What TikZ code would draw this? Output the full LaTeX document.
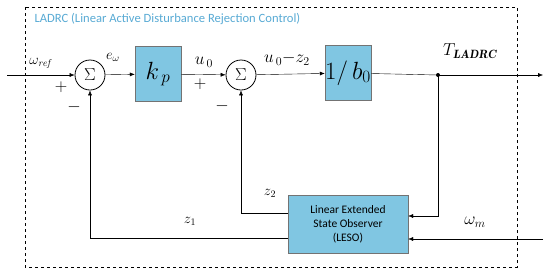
\documentclass[tikz,border=0pt]{standalone}
\usepackage{amsmath}
\usepackage{fontspec}
\newfontfamily\calib{Carlito}
\usetikzlibrary{arrows.meta,positioning}
\definecolor{boxblue}{RGB}{128,198,226}
\definecolor{titleblue}{RGB}{88,170,212}

\begin{document}
\begin{tikzpicture}[x=1pt,y=-1pt,
    blk/.style={draw=black!55, fill=boxblue, minimum width=46pt, minimum height=55pt, inner sep=0pt},
    sumnode/.style={draw, circle, thick, minimum size=30pt, inner sep=0pt},
    sig/.style={-{Latex[length=5pt,width=4pt]}},
    ]
    \useasboundingbox (0,0) rectangle (550,277);
    % controller frame
    \draw[dashed, thick] (25,7) rectangle (517,267);
    \node[anchor=west, text=titleblue, font=\calib\fontsize{12.6}{14}\selectfont] (title) at (31,19) {LADRC (Linear Active Disturbance Rejection Control)};

    % blocks
    \node[sumnode] (sum1) at (90,75) {\LARGE$\Sigma$};
    \node[blk] (kp) at (158,74) {\fontsize{26}{28}\selectfont$k_{\,p}$};
    \node[sumnode] (sum2) at (241,75) {\LARGE$\Sigma$};
    \node[blk] (binv) at (348,73) {\fontsize{26}{28}\selectfont$1/\,b_0$};
    \node[blk, minimum width=120pt, minimum height=58pt, align=center,
          font=\calib\fontsize{11.5}{14}\selectfont] (leso) at (348,224)
          {Linear Extended\\State Observer\\(LESO)};
    \coordinate (in) at (7,75);
    \coordinate (jn) at (438,75);
    \coordinate (out) at (543,75);
    \coordinate (wm) at (543,239);

    % signal lines
    \draw[sig] (in) -- (sum1);
    \draw[sig] (sum1) -- (kp);
    \draw[sig] (kp) -- (sum2);
    \draw[sig] (sum2) -- (binv);
    \draw (binv) -- (jn);
    \draw[sig] (jn) -- (out);
    \fill (jn) circle (2pt);
    \draw[sig] (jn) |- ([yshift=8pt]leso.east);
    \draw[sig] (wm) -- ([yshift=-15pt]leso.east);
    \draw[sig] ([yshift=11pt]leso.west) -| (sum2);
    \draw[sig] ([yshift=-14pt]leso.west) -| (sum1);

    % labels
    \node (wref) at (40,63) {\Large$\omega_{\mathit{ref}}$};
    \node (p1) at (61,87) {\LARGE$+$};
    \node (m1) at (74,107) {\LARGE$-$};
    \node (ew) at (113,57) {\Large$e_\omega$};
    \node (u0) at (204,62) {\LARGE$u_{\,0}$};
    \node (p2) at (200,84) {\LARGE$+$};
    \node (m2) at (222,106) {\LARGE$-$};
    \node (u0z2) at (287,59) {\LARGE$u_{\,0}{-}z_2$};
    \node (tl) at (470,51) {\LARGE$T_{\boldsymbol{\mathit{LADRC}}}$};
    \node (z2) at (270,193) {\Large$z_2$};
    \node (z1) at (190,221) {\Large$z_1$};
    \node (wml) at (475,222) {\LARGE$\omega_m$};
\end{tikzpicture}
\end{document}
